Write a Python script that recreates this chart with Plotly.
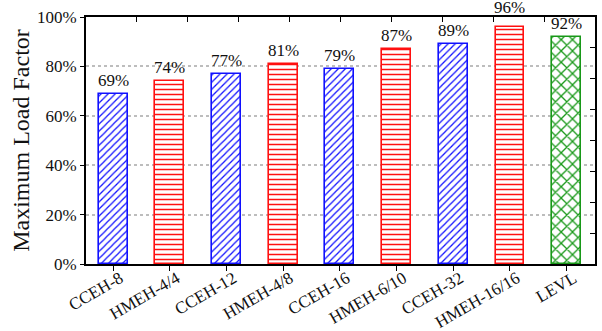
import plotly.graph_objects as go

schemes = ["CCEH-8", "HMEH-4/4", "CCEH-12", "HMEH-4/8", "CCEH-16",
           "HMEH-6/10", "CCEH-32", "HMEH-16/16", "LEVL"]
load_factor = [69, 74, 77, 81, 79, 87, 89, 96, 92]
families = ["CCEH", "HMEH", "CCEH", "HMEH", "CCEH", "HMEH", "CCEH", "HMEH", "LEVL"]

family_style = {
    "CCEH": ("#1010ff", "/", 5, 0.25),
    "HMEH": ("#ff1010", "-", 5, 0.3),
    "LEVL": ("#189818", "x", 8, 0.3),
}

SERIF = "Liberation Serif"
PLOT_H = 331 - 17 - 67          # plot area height in px
PX_PER_PCT = PLOT_H / 100.0

fig = go.Figure()
annotations = []
for i, (name, val, fam) in enumerate(zip(schemes, load_factor, families)):
    color, shape, size, solidity = family_style[fam]
    fig.add_trace(go.Bar(
        x=[i], y=[val], width=0.51,
        marker=dict(
            color="white",
            line=dict(color=color, width=1.6),
            pattern=dict(shape=shape, fgcolor=color, bgcolor="white",
                         fgopacity=1, size=size, solidity=solidity,
                         fillmode="overlay"),
        ),
        showlegend=False,
    ))
    # value label: just above the bar, or lifted onto the frame line
    shift = 3
    if val * PX_PER_PCT + shift + 16 > PLOT_H:
        shift = (100 - val) * PX_PER_PCT - 1
    annotations.append(dict(
        x=i, y=val, xref="x", yref="y", text=f"{val}%", showarrow=False,
        yanchor="bottom", yshift=shift, borderpad=0,
        font=dict(family=SERIF, size=17, color="#111"),
    ))

# invisible trace anchoring the mirrored top / right axes
fig.add_trace(go.Scatter(x=[0, 10], y=[0, 8], xaxis="x2", yaxis="y2",
                         mode="markers", marker=dict(opacity=0),
                         hoverinfo="skip", showlegend=False))

fig.update_layout(
    width=602, height=331,
    margin=dict(l=86, r=7, t=17, b=67),
    plot_bgcolor="white", paper_bgcolor="white",
    font=dict(family=SERIF, size=16, color="#111"),
    bargap=0,
    annotations=annotations,
    xaxis=dict(
        range=[-0.48, 8.5], tickvals=list(range(len(schemes))),
        ticktext=schemes, tickangle=-30, automargin=False,
        ticklabelstandoff=-9, ticklabelshift=7,
        ticks="outside", ticklen=5, tickwidth=1.2, tickcolor="black",
        showline=True, linecolor="black", linewidth=2,
        showgrid=False, zeroline=False,
        tickfont=dict(family=SERIF, size=17, color="#111"),
    ),
    yaxis=dict(
        range=[0, 100], tickvals=[0, 20, 40, 60, 80, 100],
        ticktext=["0%", "20%", "40%", "60%", "80%", "100%"],
        automargin=False,
        ticks="outside", ticklen=4, tickwidth=1.2, tickcolor="black",
        showline=True, linecolor="black", linewidth=2,
        showgrid=True, gridcolor="#bdbdbd", griddash="dot", gridwidth=1.5,
        zeroline=False,
        tickfont=dict(family=SERIF, size=17, color="#111"),
        title=dict(text="Maximum Load Factor",
                   font=dict(family=SERIF, size=24, color="#111"),
                   standoff=1),
    ),
    xaxis2=dict(
        overlaying="x", side="top", range=[0, 10], automargin=False,
        tickvals=list(range(1, 10)), ticks="inside", ticklen=5,
        tickwidth=1.2, tickcolor="black", showticklabels=False,
        showline=True, linecolor="black", linewidth=1.5,
        showgrid=False, zeroline=False,
    ),
    yaxis2=dict(
        overlaying="y", side="right", range=[0, 8], automargin=False,
        tickvals=list(range(1, 8)), ticks="inside", ticklen=5,
        tickwidth=1.2, tickcolor="black", showticklabels=False,
        showline=True, linecolor="black", linewidth=1.5,
        showgrid=False, zeroline=False,
    ),
)

fig.write_html("out.html")
